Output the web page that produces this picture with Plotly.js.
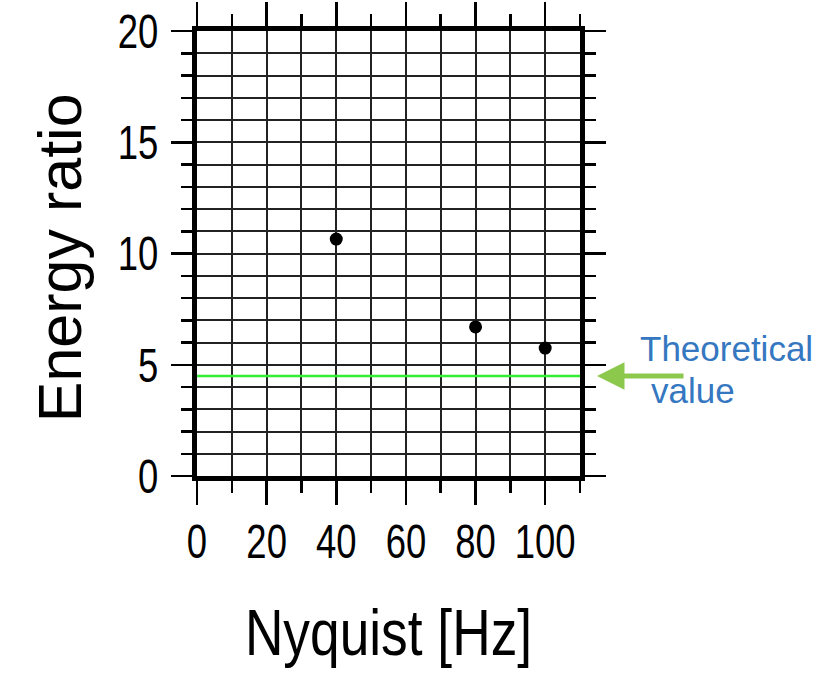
<!DOCTYPE html>
<html>
<head>
<meta charset="utf-8">
<script src="https://cdn.plot.ly/plotly-3.0.1.min.js"></script>
<style>html,body{margin:0;padding:0;background:#fff;}#chart{width:825px;height:674px;}</style>
</head>
<body>
<div id="chart"></div>
<script>
// Data
const nyquistHz = [40, 80, 100];
const energyRatio = [10.65, 6.7, 5.75];
const theoreticalValue = 4.5;
const xRange = [0, 110];
const yRange = [0, 20];
const xTitle = 'Nyquist [Hz]';
const yTitle = 'Energy ratio';
const noteLine1 = 'Theoretical';
const noteLine2 = 'value';

const sans = '"Liberation Sans", Arial, Helvetica, sans-serif';

const traces = [
  {
    x: xRange,
    y: [theoreticalValue, theoreticalValue],
    mode: 'lines',
    line: {color: '#33ee33', width: 2.5},
    hoverinfo: 'skip',
    showlegend: false
  },
  {
    x: nyquistHz,
    y: energyRatio,
    mode: 'markers',
    marker: {color: 'black', size: 13},
    showlegend: false,
    cliponaxis: false
  }
];

const gridStyle = {gridcolor: '#222222', gridwidth: 2};

const layout = {
  width: 825,
  height: 674,
  paper_bgcolor: 'white',
  plot_bgcolor: 'white',
  margin: {l: 197, r: 245, t: 31, b: 198, pad: 0},
  showlegend: false,
  xaxis: Object.assign({
    range: xRange,
    dtick: 20,
    tick0: 0,
    showgrid: true,
    zeroline: false,
    showline: true,
    linecolor: 'black',
    linewidth: 5,
    mirror: 'allticks',
    ticks: 'outside',
    ticklen: 24,
    tickwidth: 2.5,
    tickcolor: 'black',
    ticklabelstandoff: -5,
    tickfont: {family: sans, size: 48, color: 'black'},
    minor: Object.assign({dtick: 10, tick0: 0, showgrid: true,
            ticks: 'outside', ticklen: 12, tickwidth: 2.5, tickcolor: 'black'}, gridStyle),
    title: {text: xTitle, font: {family: sans, size: 65, color: 'black'}, standoff: 44},
    fixedrange: true
  }, gridStyle),
  yaxis: Object.assign({
    range: yRange,
    dtick: 5,
    tick0: 0,
    showgrid: true,
    zeroline: false,
    showline: true,
    linecolor: 'black',
    linewidth: 5,
    mirror: 'allticks',
    ticks: 'outside',
    ticklen: 21,
    tickwidth: 2.5,
    tickcolor: 'black',
    ticklabelstandoff: 3,
    tickfont: {family: sans, size: 48, color: 'black'},
    minor: Object.assign({dtick: 1, tick0: 0, showgrid: true,
            ticks: 'outside', ticklen: 11, tickwidth: 2.5, tickcolor: 'black'}, gridStyle),
    fixedrange: true
  }, gridStyle),
  annotations: [
    {
      xref: 'paper', yref: 'paper',
      x: (60 - 197) / 383, y: (475.7 - 258) / 445,
      xanchor: 'center', yanchor: 'middle',
      textangle: -90,
      text: yTitle,
      showarrow: false,
      font: {family: sans, size: 61, color: 'black'}
    },
    {
      xref: 'paper', yref: 'y',
      x: (597 - 197) / 383, y: theoreticalValue,
      text: '',
      showarrow: true,
      arrowhead: 2,
      arrowsize: 1.1,
      arrowwidth: 5,
      arrowcolor: '#8cc84b',
      ax: 88, ay: 0,
      axref: 'pixel', ayref: 'pixel'
    },
    {
      xref: 'paper', yref: 'paper',
      x: (638 - 197) / 383, y: (475.7 - 348) / 445,
      xanchor: 'left', yanchor: 'middle',
      text: noteLine1,
      showarrow: false,
      font: {family: sans, size: 35, color: '#3577c0'}
    },
    {
      xref: 'paper', yref: 'paper',
      x: (649 - 197) / 383, y: (475.7 - 390) / 445,
      xanchor: 'left', yanchor: 'middle',
      text: noteLine2,
      showarrow: false,
      font: {family: sans, size: 35, color: '#3577c0'}
    }
  ]
};

// Horizontally condense text (the reference uses a narrow Helvetica),
// keeping the chosen edge / centre of each label where Plotly put it.
function condense(sel, s, keep) {
  document.querySelectorAll(sel).forEach(function (t) {
    const tr = t.getAttribute('transform') || '';
    const r0 = t.getBoundingClientRect();
    t.setAttribute('transform', tr + ' scale(' + s + ',1)');
    const r1 = t.getBoundingClientRect();
    let dx;
    if (keep === 'right') dx = r0.right - r1.right;
    else if (keep === 'left') dx = r0.left - r1.left;
    else dx = (r0.left + r0.right) / 2 - (r1.left + r1.right) / 2;
    t.setAttribute('transform', 'translate(' + dx + ',0) ' + tr + ' scale(' + s + ',1)');
  });
}

Plotly.newPlot('chart', traces, layout, {displayModeBar: false, staticPlot: true}).then(function () {
  condense('#chart .xtick text', 0.76, 'center');
  condense('#chart .ytick text', 0.76, 'right');
  condense('#chart .xtitle', 0.82, 'center');
});
</script>
</body>
</html>
